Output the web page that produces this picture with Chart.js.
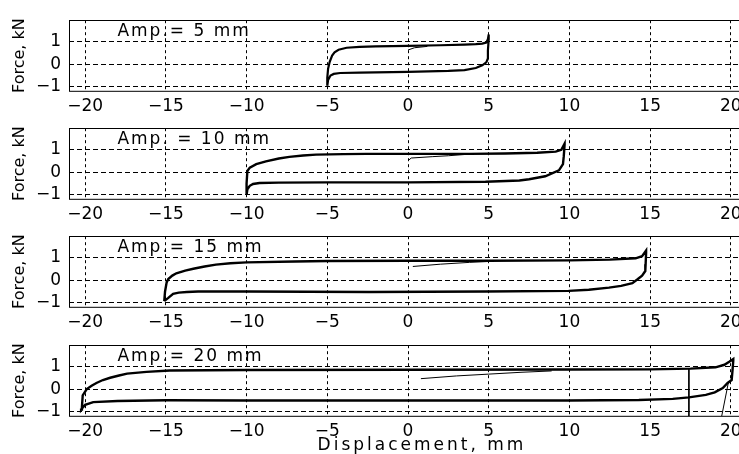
<!DOCTYPE html>
<html>
<head>
<meta charset="utf-8">
<script src="https://cdn.jsdelivr.net/npm/chart.js@4.4.1/dist/chart.umd.min.js"></script>
<style>
  html, body { margin:0; padding:0; background:#fff; width:739px; height:454px; overflow:hidden; }
  canvas { position:absolute; left:0; }
</style>
</head>
<body>
<canvas id="p1" width="760" height="115"></canvas>
<canvas id="p2" width="760" height="115"></canvas>
<canvas id="p3" width="760" height="115"></canvas>
<canvas id="p4" width="760" height="127"></canvas>
<script>
// axis ticks
const xTicks = [-20, -15, -10, -5, 0, 5, 10, 15, 20];
const yTicks = [-1, 0, 1];
const ampLabels = ['Amp.= 5 mm', 'Amp. = 10 mm', 'Amp.= 15 mm', 'Amp.= 20 mm'];

// hysteresis loops [displacement mm, force kN]
const loop5 = [[-5.0,-0.95],[-5.0,-0.6],[-4.95,-0.2],[-4.85,0.1],[-4.7,0.38],[-4.55,0.52],[-4.3,0.63],[-3.8,0.72],[-3,0.76],[-2,0.78],[0,0.8],[2,0.83],[3.5,0.86],[4.2,0.88],[4.6,0.9],[4.85,0.95],[4.95,1.1],[5.0,1.3],
  [5.0,1.1],[4.95,0.6],[4.95,0.25],[4.85,0.08],[4.6,-0.05],[4.2,-0.17],[3.5,-0.26],[2.5,-0.3],[0,-0.34],[-3,-0.37],[-4.2,-0.39],[-4.6,-0.43],[-4.8,-0.5],[-4.95,-0.7],[-5.0,-0.95]];
const loop10 = [[-10,-1.0],[-10,-0.5],[-9.95,0.05],[-9.8,0.2],[-9.4,0.35],[-8.8,0.47],[-8,0.6],[-7.35,0.67],[-6.5,0.73],[-5.7,0.77],[-4,0.79],[-2.6,0.8],[0,0.8],[3.8,0.8],[6,0.82],[8,0.85],[9.15,0.9],[9.5,0.98],[9.7,1.25],
  [9.7,1.2],[9.65,0.7],[9.6,0.35],[9.35,0.08],[8.5,-0.18],[7.5,-0.31],[6.9,-0.37],[4.8,-0.42],[0,-0.45],[-5,-0.45],[-8,-0.46],[-9.2,-0.48],[-9.6,-0.52],[-9.8,-0.6],[-9.95,-0.75],[-10,-1.0]];
const loop15 = [[-15.1,-0.92],[-15.05,-0.5],[-14.95,-0.1],[-14.85,0.05],[-14.6,0.2],[-14.35,0.3],[-13.8,0.42],[-13.3,0.5],[-12.6,0.6],[-11.9,0.68],[-11,0.74],[-10,0.78],[-7,0.82],[-5,0.84],[0,0.85],[5,0.85],[10,0.87],[12.5,0.9],[14.1,0.96],[14.5,1.05],[14.75,1.3],
  [14.75,1.2],[14.72,0.7],[14.7,0.4],[14.5,0.2],[14.2,0.03],[13.9,-0.13],[13.2,-0.25],[12.45,-0.33],[11.2,-0.42],[9.95,-0.47],[4.8,-0.5],[-2.4,-0.52],[-10,-0.5],[-13,-0.5],[-13.7,-0.52],[-14.2,-0.55],[-14.55,-0.6],[-14.85,-0.78],[-15.1,-0.92]];
const loop20 = [[-20.25,-0.9],[-20.2,-0.8],[-20.15,-0.27],[-19.9,0],[-19.6,0.15],[-19.3,0.27],[-18.9,0.4],[-18.45,0.5],[-17.9,0.6],[-17.4,0.68],[-16.2,0.76],[-14.75,0.82],[-10,0.84],[0,0.85],[10,0.86],[15,0.87],[17.5,0.9],[19.05,0.96],[19.6,1.07],[19.9,1.2],[20.15,1.32],
  [20.15,1.25],[20.1,0.8],[20.05,0.4],[19.8,0.27],[19.5,0.05],[19,-0.14],[18.45,-0.25],[17.4,-0.36],[16.4,-0.43],[14.3,-0.48],[10,-0.5],[0,-0.5],[-10,-0.5],[-15,-0.49],[-18,-0.52],[-19.5,-0.57],[-20,-0.69],[-20.2,-0.85],[-20.25,-0.9]];

// initial loading branches (thin)
const virgin5 = [[0,0.62],[0.4,0.72],[1.2,0.78]];
const virgin10 = [[0,0.5],[0.2,0.62],[1.5,0.68],[2.5,0.72],[3.6,0.78]];
const virgin15 = [[0.3,0.6],[2,0.7],[3.8,0.78],[5,0.82]];
const virgin20 = [[0.8,0.46],[3,0.58],[5,0.66],[7,0.74],[8.9,0.8]];
// stray thin traces in the last panel
const trace20a = [[17.4,0.88],[17.4,-1.3]];
const trace20b = [[19.85,0.3],[19.4,-1.3]];

const FONT = 'DejaVu Sans';
const pts = arr => arr.map(([x, y]) => ({x, y}));
const minus = v => String(v).replace('-', '\u2212');

// box around the axes + the amplitude note
const framePlugin = {
  id: 'frame',
  afterDatasetsDraw(chart, args, opts) {
    const {ctx, chartArea: a, scales: {x, y}} = chart;
    ctx.save();
    ctx.strokeStyle = '#000';
    ctx.lineWidth = 1;
    ctx.strokeRect(Math.round(a.left) + .5, Math.round(a.top) + .5, a.right - a.left, a.bottom - a.top);
    ctx.font = '17px "' + FONT + '"';
    ctx.letterSpacing = '2px';
    ctx.fillStyle = '#000';
    ctx.textBaseline = 'middle';
    ctx.fillText(opts.text, x.getPixelForValue(-18), y.getPixelForValue(1.42));
    ctx.restore();
  }
};

// the x label of the original is spread out a bit and sits right of centre
function spreadTitle(s) {
  if (s._spread) return;
  const draw = s.drawTitle;
  s.drawTitle = function () {
    this.ctx.save();
    this.ctx.letterSpacing = '3px';
    this.ctx.translate(14, 0);
    draw.call(this);
    this.ctx.restore();
  };
  s._spread = true;
}

function makePanel(id, top, sets, label, last) {
  const cv = document.getElementById(id);
  cv.style.top = (top - 10) + 'px';
  const xh = cv.height - 10 - 79;
  new Chart(cv, {
    type: 'scatter',
    data: {
      datasets: sets.map(s => ({
        data: pts(s.d), showLine: true, pointRadius: 0,
        borderColor: '#000', borderWidth: s.w, tension: 0
      }))
    },
    plugins: [framePlugin],
    options: {
      responsive: false, animation: false,
      layout: { padding: { top: 10, right: 13, bottom: 0, left: 0 } },
      plugins: { legend: { display: false }, tooltip: { enabled: false }, frame: { text: label } },
      scales: {
        x: {
          type: 'linear', min: -21, max: 21,
          afterBuildTicks: s => { s.ticks = xTicks.map(v => ({value: v})); },
          afterFit: s => { s.height = xh; spreadTitle(s); },
          grid: { color: '#000', lineWidth: 1, drawTicks: false },
          border: { display: false, dash: [3, 3] },
          ticks: { color: '#000', padding: 5, maxRotation: 0, autoSkip: false,
            font: { family: FONT, size: 17 }, callback: minus },
          title: { display: last, text: 'Displacement, mm', color: '#000',
            font: { family: FONT, size: 17, lineHeight: 1 }, padding: { top: 0, bottom: 0 } }
        },
        y: {
          type: 'linear', min: -1.18, max: 1.93,
          afterBuildTicks: s => { s.ticks = yTicks.map(v => ({value: v})); },
          afterFit: s => { s.width = 69; },
          grid: { color: '#000', lineWidth: 1, drawTicks: false },
          border: { display: false, dash: [5, 3] },
          ticks: { color: '#000', padding: 8, font: { family: FONT, size: 17 }, callback: minus },
          title: { display: true, text: 'Force, kN', color: '#000',
            font: { family: FONT, size: 16, lineHeight: 1 }, padding: { top: 12, bottom: 0 } }
        }
      }
    }
  });
}

makePanel('p1', 12, [{d: loop5, w: 2.2}, {d: virgin5, w: 1}], ampLabels[0], false);
makePanel('p2', 120, [{d: loop10, w: 2.4}, {d: virgin10, w: 1}], ampLabels[1], false);
makePanel('p3', 228, [{d: loop15, w: 2.4}, {d: virgin15, w: 1}], ampLabels[2], false);
makePanel('p4', 337, [{d: loop20, w: 2.4}, {d: virgin20, w: 1}, {d: trace20a, w: 1}, {d: trace20b, w: 1}], ampLabels[3], true);
</script>
</body>
</html>
